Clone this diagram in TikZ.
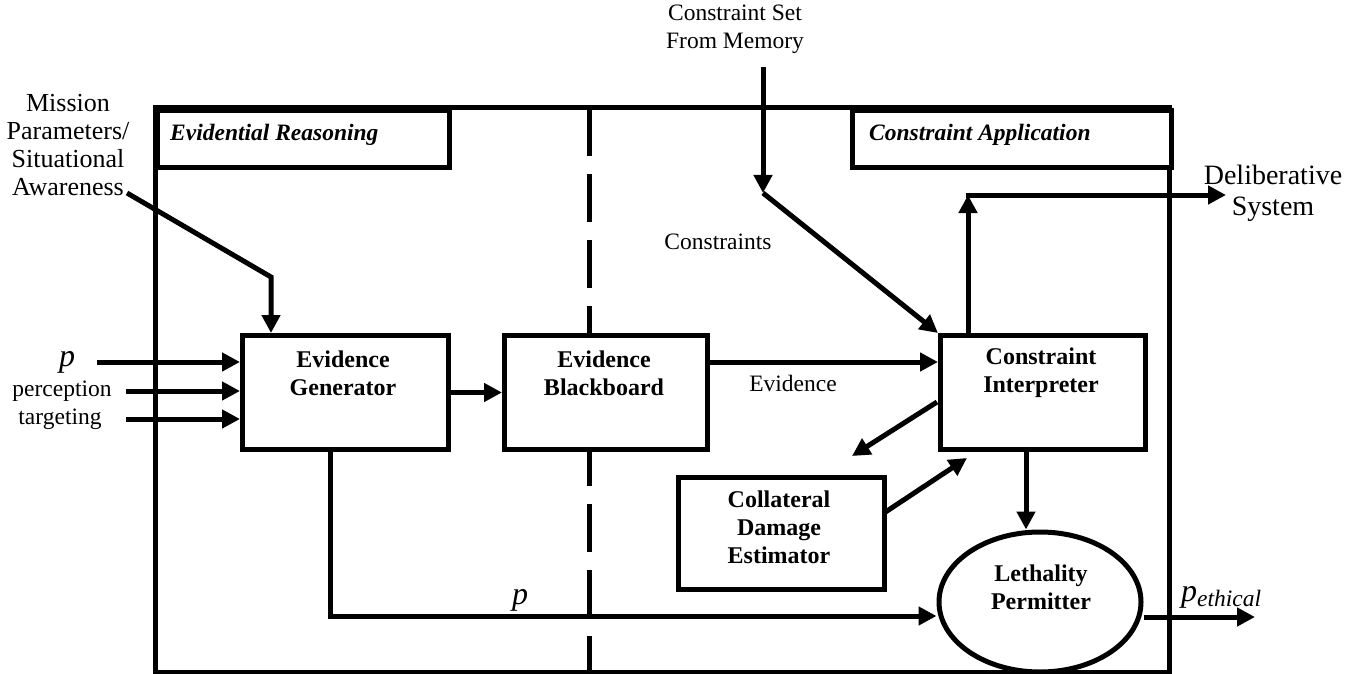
\documentclass[tikz,border=0pt]{standalone}
\usepackage{fontspec}
\setmainfont{Liberation Serif}
\usetikzlibrary{arrows.meta,shapes.geometric}
\begin{document}
\begin{tikzpicture}[x=1pt,y=-1pt,
  frameline/.style={line width=5pt},
  box/.style={draw,line width=5pt,fill=white,rectangle,inner sep=0pt,anchor=north west},
  boxtext/.style={font=\fontsize{24}{28}\selectfont\bfseries,align=center,inner sep=0pt},
  hdrtext/.style={font=\fontsize{23.5}{28}\selectfont\bfseries\itshape,inner sep=0pt,anchor=west},
  txt/.style={font=\fontsize{23.5}{28}\selectfont,align=center,inner sep=0pt},
  bigtxt/.style={font=\fontsize{26}{28}\selectfont,align=center,inner sep=0pt},
  deltxt/.style={font=\fontsize{28}{31}\selectfont,align=center,inner sep=0pt},
  ptxt/.style={font=\fontsize{32}{32}\selectfont\itshape,inner sep=0pt,anchor=base},
  arr/.style={line width=5pt,-{Triangle[length=18pt,width=18pt]}},
  ln/.style={line width=5pt},
  ]
\useasboundingbox (0,0) rectangle (1366,674);

% outer frame
\draw[frameline] (155,108) rectangle (1169,672);

% dashed divider
\draw[line width=5pt,dash pattern=on 48pt off 18pt] (589,108) -- (589,672);

% header boxes
\node[box,minimum width=292pt,minimum height=57pt] (ER) at (155,108) {};
\node[hdrtext] (ERt) at (170,135) {Evidential Reasoning};
\node[box,minimum width=319pt,minimum height=57pt] (CA) at (850,108) {};
\node[hdrtext] (CAt) at (869,135) {Constraint Application};

% main boxes
\node[box,minimum width=206pt,minimum height=114pt] (EG) at (240,333) {};
\node[boxtext] (EGt) at (343,373) {Evidence\\Generator};
\node[box,minimum width=203pt,minimum height=114pt] (EB) at (502,333) {};
\node[boxtext] (EBt) at (604,373) {Evidence\\Blackboard};
\node[box,minimum width=205pt,minimum height=114pt] (CI) at (938,333) {};
\node[boxtext] (CIt) at (1041,373) {Constraint\\Interpreter};
\node[box,minimum width=206pt,minimum height=112pt] (CD) at (676,475) {};
\node[boxtext] (CDt) at (779,527) {Collateral\\Damage\\Estimator};
\node[draw,ellipse,line width=5pt,fill=white,inner sep=0pt,minimum width=202pt,minimum height=140pt] (LP) at (1040,602) {};
\node[boxtext] (LPt) at (1041,587) {Lethality\\Permitter};

% outside labels
\node[bigtxt] (MP) at (68,145) {Mission\\Parameters/\\Situational\\Awareness};
\node[txt] (CS) at (735,29) {Constraint Set\\From Memory};
\node[deltxt] (DS) at (1273,193) {Deliberative\\System};
\node[ptxt] (pl) at (67,366) {p};
\node[txt] (perc) at (62,391) {perception};
\node[txt] (targ) at (60,419) {targeting};
\node[txt] (evl) at (793,383) {Evidence};
\node[txt] (cons) at (718,242) {Constraints};
\node[ptxt] (pfb) at (520,604) {p};
\node[inner sep=0pt,anchor=base west] (peth) at (1181,601)
  {{\fontsize{32}{32}\selectfont\itshape p}\raisebox{-5pt}{\fontsize{23.5}{23.5}\selectfont\itshape ethical}};

% coordinates
\coordinate (ms) at (127,193);
\coordinate (mk) at (271,277);
\coordinate (pin) at (97,362);
\coordinate (percin) at (126,391);
\coordinate (targin) at (126,419);
\coordinate (ev) at (0,362);
\coordinate (mtop) at (763,67);
\coordinate (mbend) at (763,193);
\coordinate (dk) at (968,195);
\coordinate (dsend) at (1226,195);
\coordinate (c1) at (937,402);
\coordinate (c2) at (852,456);
\coordinate (d1) at (884,513);
\coordinate (d2) at (967,458);
\coordinate (cl) at (1026,0);
\coordinate (fb) at (330,616);
\coordinate (pe) at (0,617);
\coordinate (peend) at (1255,617);

% connectors
\draw[arr] (ms) -- (mk) -- (mk |- EG.north);
\draw[arr] (pin) -- (pin -| EG.west);
\draw[arr] (percin) -- (percin -| EG.west);
\draw[arr] (targin) -- (targin -| EG.west);
\draw[arr] (EG.east) -- (EB.west);
\draw[arr] (EB.east |- ev) -- (CI.west |- ev);
\draw[arr] (mtop) -- (mbend);
\draw[arr] (mbend) -- (CI.north west);
\draw[arr] (CI.north -| dk) -- (dk);
\draw[arr] ([xshift=-2.5pt]dk) -- (dsend);
\draw[arr] (c1) -- (c2);
\draw[arr] (d1) -- (d2);
\draw[arr] (CI.south -| cl) -- (LP.north -| cl);
\draw[arr] (EG.south -| fb) -- (fb) -- (LP.west |- fb);
\draw[arr] (LP.east |- pe) -- (peend);
\end{tikzpicture}
\end{document}
